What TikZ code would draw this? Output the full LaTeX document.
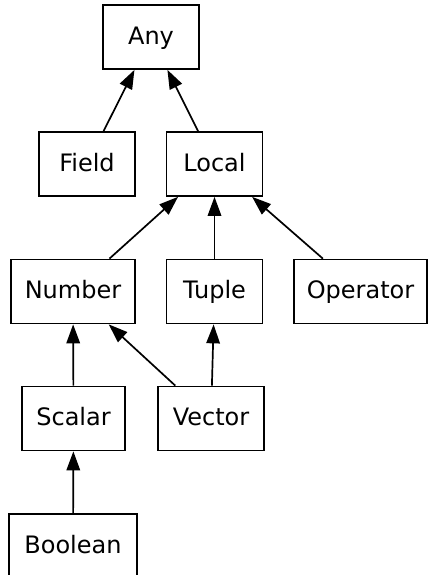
\documentclass[tikz,border=0pt]{standalone}
\usepackage{fontspec}
\setmainfont{DejaVu Sans}
\usetikzlibrary{arrows.meta}
\begin{document}
\begin{tikzpicture}[x=1pt,y=-1pt,
  cls/.style={draw,line width=1.7pt,rectangle,inner sep=0pt,
    minimum height=64pt,text height=17.5pt,text depth=3pt,
    font=\fontsize{24}{28}\selectfont},
  isa/.style={line width=1.7pt,-{Triangle[length=19pt,width=13.5pt]}}]
  \useasboundingbox (0,0) rectangle (428,575);
  % class boxes
  \node[cls,minimum width=96pt]  (any)      at (151,37)    {Any};
  \node[cls,minimum width=96pt]  (field)    at (87,164)    {Field};
  \node[cls,minimum width=96pt]  (local)    at (214.5,164) {Local};
  \node[cls,minimum width=124pt] (number)   at (73,291.5)  {Number};
  \node[cls,minimum width=96pt]  (tuple)    at (214.5,291.5) {Tuple};
  \node[cls,minimum width=133pt] (operator) at (360.5,291.5) {Operator};
  \node[cls,minimum width=103pt] (scalar)   at (73.5,418.5) {Scalar};
  \node[cls,minimum width=106pt] (vector)   at (211,418.5) {Vector};
  \node[cls,minimum width=128pt] (boolean)  at (73,546)    {Boolean};
  % inheritance edges, child to parent
  \draw[isa] (field) -- (any);
  \draw[isa] (local) -- (any);
  \draw[isa] (number) -- (local);
  \draw[isa] (tuple) -- (local);
  \draw[isa] (operator) -- (local);
  \draw[isa] (scalar) -- (number);
  \draw[isa] (vector) -- (number);
  \draw[isa] (vector) -- (tuple);
  \draw[isa] (boolean) -- (scalar);
\end{tikzpicture}
\end{document}
